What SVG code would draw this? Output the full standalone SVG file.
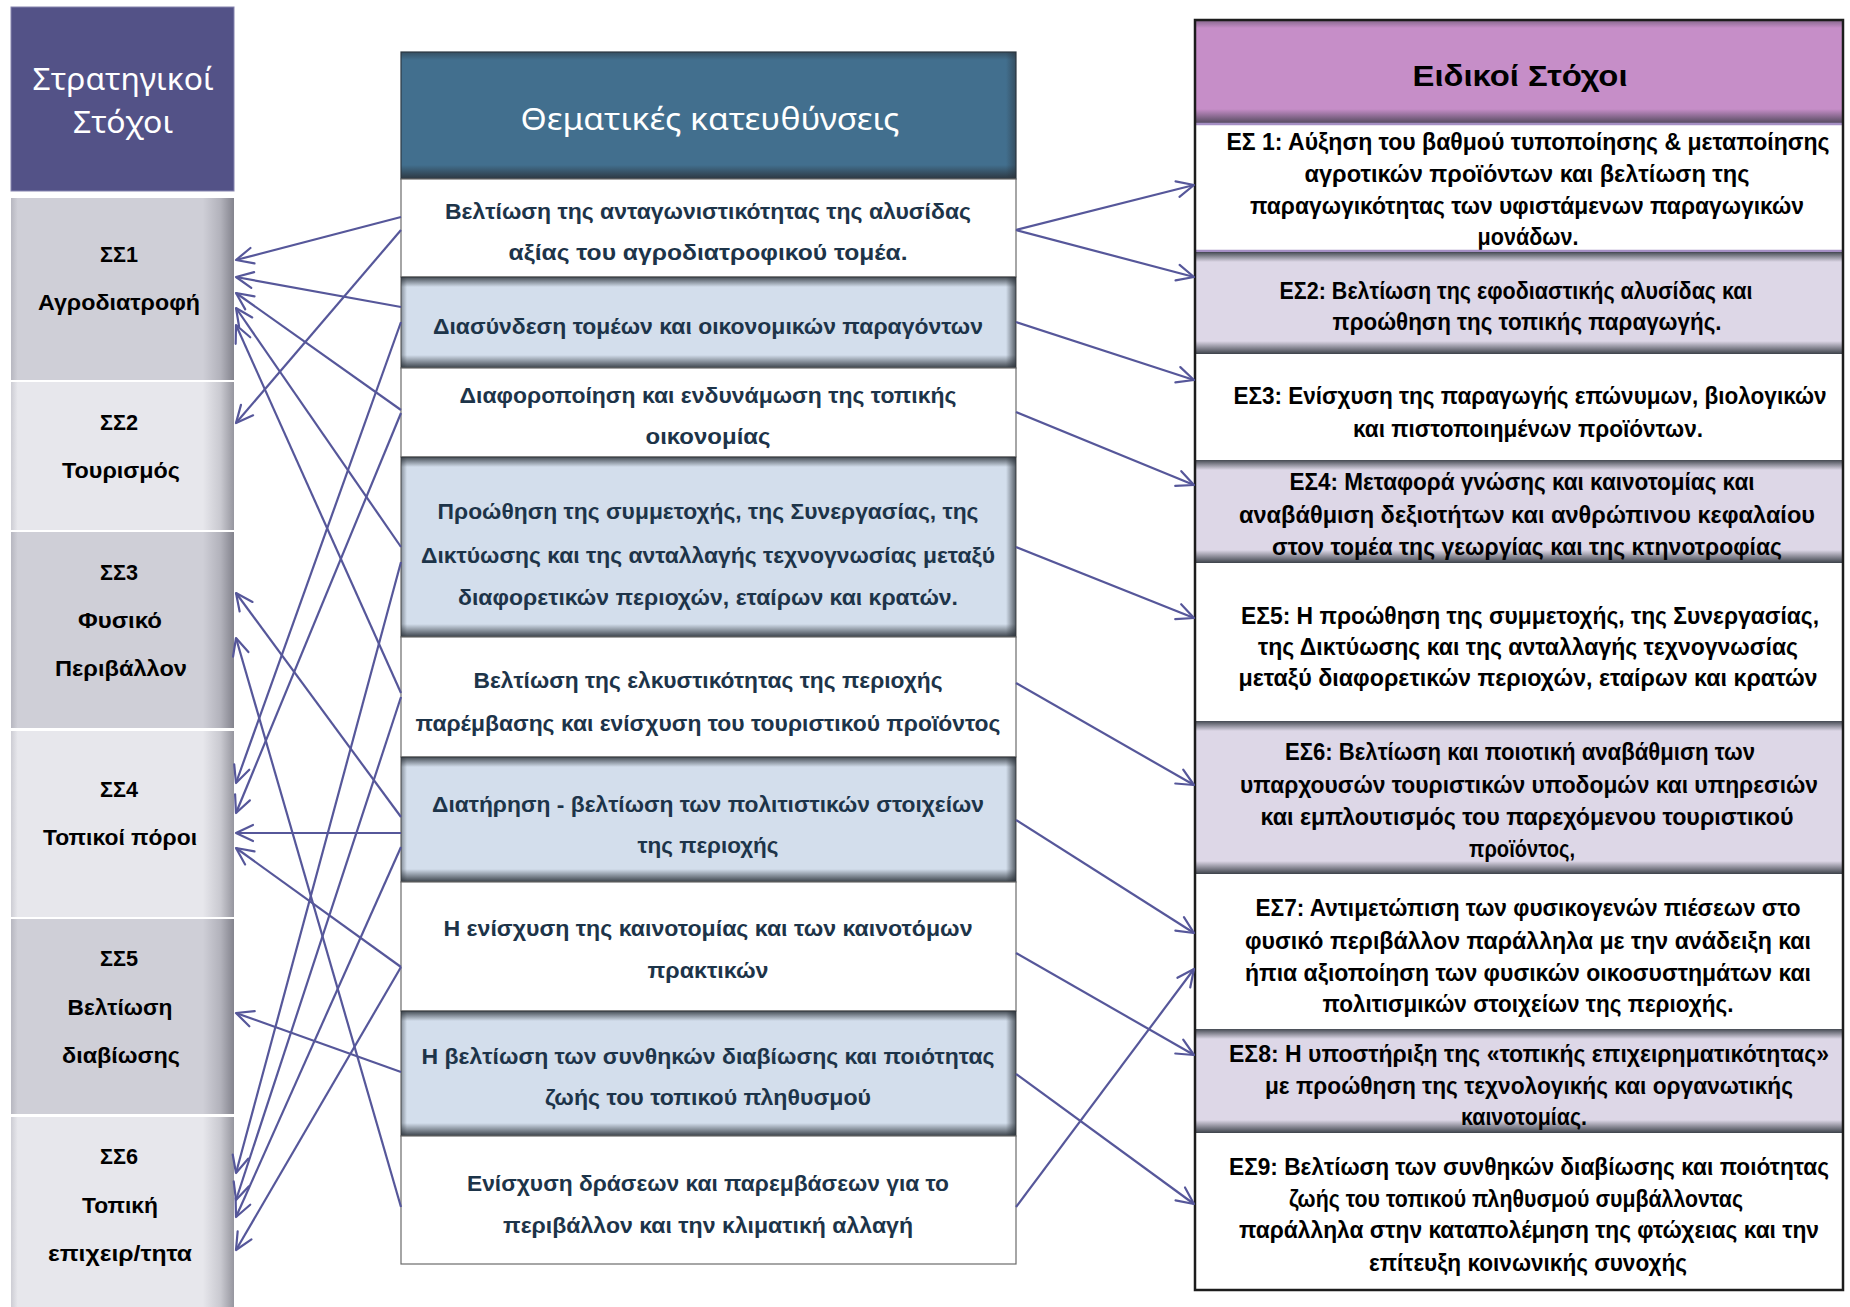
<svg xmlns="http://www.w3.org/2000/svg" width="1850" height="1307" viewBox="0 0 1850 1307">
<style>
.hw{font-family:"Noto Sans","Liberation Sans",sans-serif;font-size:30px;fill:#ffffff;text-anchor:middle}
.ll{font-family:"Liberation Sans",sans-serif;font-weight:bold;font-size:22px;fill:#000;text-anchor:middle}
.mt{font-family:"Liberation Sans",sans-serif;font-weight:bold;font-size:22px;fill:#1d3449;text-anchor:middle}
.rt{font-family:"Liberation Sans",sans-serif;font-weight:bold;font-size:23px;fill:#000;text-anchor:middle}
.rh{font-family:"Liberation Sans",sans-serif;font-weight:bold;font-size:29px;fill:#000;text-anchor:middle}
.cn line{stroke:#56579a;stroke-width:2.2;marker-end:url(#ah)}
.wrow{fill:#ffffff;stroke:#6b6b6b;stroke-width:1.2}
</style>
<defs>
<marker id="ah" viewBox="-20 -10 22 20" refX="0" refY="0" markerWidth="22" markerHeight="20" markerUnits="userSpaceOnUse" orient="auto">
<path d="M-17,-8 L0,0 L-17,8" fill="none" stroke="#56579a" stroke-width="2.2" stroke-linejoin="round" stroke-linecap="round"/>
</marker>
<linearGradient id="gDark" x1="0" y1="0" x2="1" y2="0">
<stop offset="0" stop-color="#b7b7c0"/><stop offset="0.03" stop-color="#cfcfd7"/><stop offset="0.86" stop-color="#cfcfd7"/><stop offset="0.94" stop-color="#b2b2bb"/><stop offset="1" stop-color="#83838d"/>
</linearGradient>
<linearGradient id="gLight" x1="0" y1="0" x2="1" y2="0">
<stop offset="0" stop-color="#cdcdd4"/><stop offset="0.03" stop-color="#e7e7ec"/><stop offset="0.86" stop-color="#e7e7ec"/><stop offset="0.94" stop-color="#c9c9d0"/><stop offset="1" stop-color="#96969f"/>
</linearGradient>
<linearGradient id="shTop" x1="0" y1="0" x2="0" y2="1">
<stop offset="0" stop-color="#2a3138" stop-opacity="0.85"/><stop offset="1" stop-color="#2a3138" stop-opacity="0"/>
</linearGradient>
<linearGradient id="shBot" x1="0" y1="0" x2="0" y2="1">
<stop offset="0" stop-color="#2a3138" stop-opacity="0"/><stop offset="1" stop-color="#2a3138" stop-opacity="0.9"/>
</linearGradient>
<linearGradient id="shRight" x1="0" y1="0" x2="1" y2="0">
<stop offset="0" stop-color="#2a3138" stop-opacity="0"/><stop offset="1" stop-color="#2a3138" stop-opacity="0.75"/>
</linearGradient>
<linearGradient id="shLeft" x1="0" y1="0" x2="1" y2="0">
<stop offset="0" stop-color="#2a3138" stop-opacity="0.45"/><stop offset="1" stop-color="#2a3138" stop-opacity="0"/>
</linearGradient>
</defs>
<rect x="0" y="0" width="1850" height="1307" fill="#ffffff"/>

<!-- Left column: strategic goals -->
<g id="left-header">
<rect x="11" y="7" width="223" height="184" fill="#535287" stroke="#8584ae" stroke-width="1"/>
<text class="hw" x="123" y="90" textLength="181" lengthAdjust="spacingAndGlyphs">Στρατηγικοί</text>
<text class="hw" x="123" y="133" textLength="100" lengthAdjust="spacingAndGlyphs">Στόχοι</text>
</g>
<g id="SS1">
<rect x="11" y="198" width="223" height="182" fill="url(#gDark)"/>
<text class="ll" x="119" y="262" textLength="38" lengthAdjust="spacingAndGlyphs">ΣΣ1</text>
<text class="ll" x="119" y="310" textLength="162" lengthAdjust="spacingAndGlyphs">Αγροδιατροφή</text>
</g>
<g id="SS2">
<rect x="11" y="382" width="223" height="148" fill="url(#gLight)"/>
<text class="ll" x="119" y="430" textLength="38" lengthAdjust="spacingAndGlyphs">ΣΣ2</text>
<text class="ll" x="121" y="478" textLength="118" lengthAdjust="spacingAndGlyphs">Τουρισμός</text>
</g>
<g id="SS3">
<rect x="11" y="532" width="223" height="196" fill="url(#gDark)"/>
<text class="ll" x="119" y="580" textLength="38" lengthAdjust="spacingAndGlyphs">ΣΣ3</text>
<text class="ll" x="120" y="628" textLength="84" lengthAdjust="spacingAndGlyphs">Φυσικό</text>
<text class="ll" x="121" y="676" textLength="132" lengthAdjust="spacingAndGlyphs">Περιβάλλον</text>
</g>
<g id="SS4">
<rect x="11" y="731" width="223" height="186" fill="url(#gLight)"/>
<text class="ll" x="119" y="797" textLength="38" lengthAdjust="spacingAndGlyphs">ΣΣ4</text>
<text class="ll" x="120" y="845" textLength="154" lengthAdjust="spacingAndGlyphs">Τοπικοί πόροι</text>
</g>
<g id="SS5">
<rect x="11" y="919" width="223" height="195" fill="url(#gDark)"/>
<text class="ll" x="119" y="966" textLength="38" lengthAdjust="spacingAndGlyphs">ΣΣ5</text>
<text class="ll" x="120" y="1015" textLength="105" lengthAdjust="spacingAndGlyphs">Βελτίωση</text>
<text class="ll" x="121" y="1063" textLength="118" lengthAdjust="spacingAndGlyphs">διαβίωσης</text>
</g>
<g id="SS6">
<rect x="11" y="1117" width="223" height="190" fill="url(#gLight)"/>
<text class="ll" x="119" y="1164" textLength="38" lengthAdjust="spacingAndGlyphs">ΣΣ6</text>
<text class="ll" x="120" y="1213" textLength="76" lengthAdjust="spacingAndGlyphs">Τοπική</text>
<text class="ll" x="120" y="1261" textLength="144" lengthAdjust="spacingAndGlyphs">επιχειρ/τητα</text>
</g>

<!-- Middle column: thematic directions -->
<g id="mid-header">
<rect x="401" y="52" width="615" height="127" fill="#426f8e" stroke="#2d3a44" stroke-width="1.2"/>
<rect x="401" y="52" width="615" height="8" fill="url(#shTop)" opacity="0.6"/>
<rect x="401" y="165" width="615" height="14" fill="url(#shBot)"/>
<rect x="1006" y="52" width="10" height="127" fill="url(#shRight)" opacity="0.7"/>
<text class="hw" x="710" y="130" textLength="379" lengthAdjust="spacingAndGlyphs">Θεματικές κατευθύνσεις</text>
</g>
<g id="TK1">
<rect class="wrow" x="401" y="179" width="615" height="98"/>
<text class="mt" x="708" y="219" textLength="526" lengthAdjust="spacingAndGlyphs">Βελτίωση της ανταγωνιστικότητας της αλυσίδας</text>
<text class="mt" x="708" y="260" textLength="399" lengthAdjust="spacingAndGlyphs">αξίας του αγροδιατροφικού τομέα.</text>
</g>
<g id="TK2">
<rect x="401" y="277" width="615" height="91" fill="#d3deec" stroke="#6b6b6b" stroke-width="1.2"/>
<rect x="401" y="277" width="615" height="10" fill="url(#shTop)"/>
<rect x="401" y="355" width="615" height="13" fill="url(#shBot)"/>
<rect x="1006" y="277" width="10" height="91" fill="url(#shRight)"/>
<rect x="401" y="277" width="6" height="91" fill="url(#shLeft)"/>
<text class="mt" x="708" y="334" textLength="550" lengthAdjust="spacingAndGlyphs">Διασύνδεση τομέων και οικονομικών παραγόντων</text>
</g>
<g id="TK3">
<rect class="wrow" x="401" y="368" width="615" height="89"/>
<text class="mt" x="708" y="403" textLength="497" lengthAdjust="spacingAndGlyphs">Διαφοροποίηση και ενδυνάμωση της τοπικής</text>
<text class="mt" x="708" y="444" textLength="125" lengthAdjust="spacingAndGlyphs">οικονομίας</text>
</g>
<g id="TK4">
<rect x="401" y="457" width="615" height="180" fill="#d3deec" stroke="#6b6b6b" stroke-width="1.2"/>
<rect x="401" y="457" width="615" height="10" fill="url(#shTop)"/>
<rect x="401" y="624" width="615" height="13" fill="url(#shBot)"/>
<rect x="1006" y="457" width="10" height="180" fill="url(#shRight)"/>
<rect x="401" y="457" width="6" height="180" fill="url(#shLeft)"/>
<text class="mt" x="708" y="519" textLength="541" lengthAdjust="spacingAndGlyphs">Προώθηση της συμμετοχής, της Συνεργασίας, της</text>
<text class="mt" x="708" y="563" textLength="574" lengthAdjust="spacingAndGlyphs">Δικτύωσης και της ανταλλαγής τεχνογνωσίας μεταξύ</text>
<text class="mt" x="708" y="605" textLength="500" lengthAdjust="spacingAndGlyphs">διαφορετικών περιοχών, εταίρων και κρατών.</text>
</g>
<g id="TK5">
<rect class="wrow" x="401" y="637" width="615" height="120"/>
<text class="mt" x="708" y="688" textLength="469" lengthAdjust="spacingAndGlyphs">Βελτίωση της ελκυστικότητας της περιοχής</text>
<text class="mt" x="708" y="731" textLength="585" lengthAdjust="spacingAndGlyphs">παρέμβασης και ενίσχυση του τουριστικού προϊόντος</text>
</g>
<g id="TK6">
<rect x="401" y="757" width="615" height="125" fill="#d3deec" stroke="#6b6b6b" stroke-width="1.2"/>
<rect x="401" y="757" width="615" height="10" fill="url(#shTop)"/>
<rect x="401" y="869" width="615" height="13" fill="url(#shBot)"/>
<rect x="1006" y="757" width="10" height="125" fill="url(#shRight)"/>
<rect x="401" y="757" width="6" height="125" fill="url(#shLeft)"/>
<text class="mt" x="708" y="812" textLength="552" lengthAdjust="spacingAndGlyphs">Διατήρηση - βελτίωση των πολιτιστικών στοιχείων</text>
<text class="mt" x="708" y="853" textLength="141" lengthAdjust="spacingAndGlyphs">της περιοχής</text>
</g>
<g id="TK7">
<rect class="wrow" x="401" y="882" width="615" height="129"/>
<text class="mt" x="708" y="936" textLength="529" lengthAdjust="spacingAndGlyphs">Η ενίσχυση της καινοτομίας και των καινοτόμων</text>
<text class="mt" x="708" y="978" textLength="121" lengthAdjust="spacingAndGlyphs">πρακτικών</text>
</g>
<g id="TK8">
<rect x="401" y="1011" width="615" height="125" fill="#d3deec" stroke="#6b6b6b" stroke-width="1.2"/>
<rect x="401" y="1011" width="615" height="10" fill="url(#shTop)"/>
<rect x="401" y="1123" width="615" height="13" fill="url(#shBot)"/>
<rect x="1006" y="1011" width="10" height="125" fill="url(#shRight)"/>
<rect x="401" y="1011" width="6" height="125" fill="url(#shLeft)"/>
<text class="mt" x="708" y="1064" textLength="573" lengthAdjust="spacingAndGlyphs">Η βελτίωση των συνθηκών διαβίωσης και ποιότητας</text>
<text class="mt" x="708" y="1105" textLength="326" lengthAdjust="spacingAndGlyphs">ζωής του τοπικού πληθυσμού</text>
</g>
<g id="TK9">
<rect class="wrow" x="401" y="1136" width="615" height="128"/>
<text class="mt" x="708" y="1191" textLength="482" lengthAdjust="spacingAndGlyphs">Ενίσχυση δράσεων και παρεμβάσεων για το</text>
<text class="mt" x="708" y="1233" textLength="410" lengthAdjust="spacingAndGlyphs">περιβάλλον και την κλιματική αλλαγή</text>
</g>

<!-- Right column: specific goals -->
<g id="right-header">
<rect x="1195" y="20" width="648" height="103" fill="#c68ec8"/>
<rect x="1195" y="20" width="648" height="8" fill="url(#shTop)" opacity="0.5"/>
<rect x="1195" y="109" width="648" height="14" fill="url(#shBot)" opacity="0.8"/>
<text class="rh" x="1520" y="86" textLength="215" lengthAdjust="spacingAndGlyphs">Ειδικοί Στόχοι</text>
</g>
<g id="ES1">
<rect x="1195" y="123" width="648" height="128" fill="#ffffff"/>
<line x1="1195" y1="124" x2="1843" y2="124" stroke="#a58fc4" stroke-width="2.5"/>
<text class="rt" x="1528" y="150" textLength="603" lengthAdjust="spacingAndGlyphs">ΕΣ 1: Αύξηση του βαθμού τυποποίησης &amp; μεταποίησης</text>
<text class="rt" x="1527" y="182" textLength="445" lengthAdjust="spacingAndGlyphs">αγροτικών προϊόντων και βελτίωση της</text>
<text class="rt" x="1527" y="214" textLength="554" lengthAdjust="spacingAndGlyphs">παραγωγικότητας των υφιστάμενων παραγωγικών</text>
<text class="rt" x="1528" y="245" textLength="101" lengthAdjust="spacingAndGlyphs">μονάδων.</text>
</g>
<g id="ES2">
<rect x="1195" y="251" width="648" height="103" fill="#ddd7e7"/>
<line x1="1195" y1="251" x2="1843" y2="251" stroke="#a58fc4" stroke-width="2.5"/>
<rect x="1195" y="252" width="648" height="10" fill="url(#shTop)"/>
<rect x="1195" y="341" width="648" height="13" fill="url(#shBot)"/>
<text class="rt" x="1516" y="299" textLength="473" lengthAdjust="spacingAndGlyphs">ΕΣ2: Βελτίωση της εφοδιαστικής αλυσίδας και</text>
<text class="rt" x="1527" y="330" textLength="389" lengthAdjust="spacingAndGlyphs">προώθηση της τοπικής παραγωγής.</text>
</g>
<g id="ES3">
<rect x="1195" y="354" width="648" height="106" fill="#ffffff"/>
<text class="rt" x="1530" y="404" textLength="593" lengthAdjust="spacingAndGlyphs">ΕΣ3: Ενίσχυση της παραγωγής επώνυμων, βιολογικών</text>
<text class="rt" x="1528" y="437" textLength="350" lengthAdjust="spacingAndGlyphs">και πιστοποιημένων προϊόντων.</text>
</g>
<g id="ES4">
<rect x="1195" y="460" width="648" height="103" fill="#ddd7e7"/>
<rect x="1195" y="460" width="648" height="10" fill="url(#shTop)"/>
<rect x="1195" y="550" width="648" height="13" fill="url(#shBot)"/>
<text class="rt" x="1522" y="490" textLength="465" lengthAdjust="spacingAndGlyphs">ΕΣ4: Μεταφορά γνώσης και καινοτομίας και</text>
<text class="rt" x="1527" y="523" textLength="576" lengthAdjust="spacingAndGlyphs">αναβάθμιση δεξιοτήτων και ανθρώπινου κεφαλαίου</text>
<text class="rt" x="1527" y="555" textLength="510" lengthAdjust="spacingAndGlyphs">στον τομέα της γεωργίας και της κτηνοτροφίας</text>
</g>
<g id="ES5">
<rect x="1195" y="563" width="648" height="158" fill="#ffffff"/>
<text class="rt" x="1530" y="624" textLength="578" lengthAdjust="spacingAndGlyphs">ΕΣ5: Η προώθηση της συμμετοχής, της Συνεργασίας,</text>
<text class="rt" x="1528" y="655" textLength="540" lengthAdjust="spacingAndGlyphs">της Δικτύωσης και της ανταλλαγής τεχνογνωσίας</text>
<text class="rt" x="1528" y="686" textLength="579" lengthAdjust="spacingAndGlyphs">μεταξύ διαφορετικών περιοχών, εταίρων και κρατών</text>
</g>
<g id="ES6">
<rect x="1195" y="721" width="648" height="153" fill="#ddd7e7"/>
<rect x="1195" y="721" width="648" height="10" fill="url(#shTop)"/>
<rect x="1195" y="861" width="648" height="13" fill="url(#shBot)"/>
<text class="rt" x="1520" y="760" textLength="470" lengthAdjust="spacingAndGlyphs">ΕΣ6: Βελτίωση και ποιοτική αναβάθμιση των</text>
<text class="rt" x="1529" y="793" textLength="578" lengthAdjust="spacingAndGlyphs">υπαρχουσών τουριστικών υποδομών και υπηρεσιών</text>
<text class="rt" x="1527" y="825" textLength="533" lengthAdjust="spacingAndGlyphs">και εμπλουτισμός του παρεχόμενου τουριστικού</text>
<text class="rt" x="1522" y="857" textLength="106" lengthAdjust="spacingAndGlyphs">προϊόντος,</text>
</g>
<g id="ES7">
<rect x="1195" y="874" width="648" height="155" fill="#ffffff"/>
<text class="rt" x="1528" y="916" textLength="545" lengthAdjust="spacingAndGlyphs">ΕΣ7: Αντιμετώπιση των φυσικογενών πιέσεων στο</text>
<text class="rt" x="1528" y="949" textLength="566" lengthAdjust="spacingAndGlyphs">φυσικό περιβάλλον παράλληλα με την ανάδειξη και</text>
<text class="rt" x="1528" y="981" textLength="566" lengthAdjust="spacingAndGlyphs">ήπια αξιοποίηση των φυσικών οικοσυστημάτων και</text>
<text class="rt" x="1528" y="1012" textLength="411" lengthAdjust="spacingAndGlyphs">πολιτισμικών στοιχείων της περιοχής.</text>
</g>
<g id="ES8">
<rect x="1195" y="1029" width="648" height="104" fill="#ddd7e7"/>
<rect x="1195" y="1029" width="648" height="10" fill="url(#shTop)"/>
<rect x="1195" y="1120" width="648" height="13" fill="url(#shBot)"/>
<text class="rt" x="1529" y="1062" textLength="600" lengthAdjust="spacingAndGlyphs">ΕΣ8: Η υποστήριξη της «τοπικής επιχειρηματικότητας»</text>
<text class="rt" x="1529" y="1094" textLength="528" lengthAdjust="spacingAndGlyphs">με προώθηση της τεχνολογικής και οργανωτικής</text>
<text class="rt" x="1524" y="1125" textLength="126" lengthAdjust="spacingAndGlyphs">καινοτομίας.</text>
</g>
<g id="ES9">
<rect x="1195" y="1133" width="648" height="157" fill="#ffffff"/>
<text class="rt" x="1529" y="1175" textLength="600" lengthAdjust="spacingAndGlyphs">ΕΣ9: Βελτίωση των συνθηκών διαβίωσης και ποιότητας</text>
<text class="rt" x="1516" y="1207" textLength="454" lengthAdjust="spacingAndGlyphs">ζωής του τοπικού πληθυσμού συμβάλλοντας</text>
<text class="rt" x="1529" y="1238" textLength="580" lengthAdjust="spacingAndGlyphs">παράλληλα στην καταπολέμηση της φτώχειας και την</text>
<text class="rt" x="1528" y="1271" textLength="318" lengthAdjust="spacingAndGlyphs">επίτευξη κοινωνικής συνοχής</text>
</g>
<rect id="right-frame" x="1195" y="20" width="648" height="1270" fill="none" stroke="#1c1c1c" stroke-width="2.5"/>

<!-- Connectors -->
<g id="connectors" class="cn">
<line x1="401" y1="217" x2="236" y2="260"/>
<line x1="401" y1="230" x2="236" y2="423"/>
<line x1="401" y1="307" x2="236" y2="277"/>
<line x1="401" y1="322" x2="236" y2="783"/>
<line x1="401" y1="410" x2="236" y2="293"/>
<line x1="401" y1="413" x2="236" y2="813"/>
<line x1="401" y1="547" x2="236" y2="308"/>
<line x1="401" y1="562" x2="236" y2="1173"/>
<line x1="401" y1="693" x2="236" y2="325"/>
<line x1="401" y1="697" x2="236" y2="1200"/>
<line x1="401" y1="817" x2="236" y2="593"/>
<line x1="401" y1="833" x2="236" y2="833"/>
<line x1="401" y1="847" x2="236" y2="1217"/>
<line x1="401" y1="967" x2="236" y2="848"/>
<line x1="401" y1="967" x2="236" y2="1250"/>
<line x1="401" y1="1072" x2="236" y2="1013"/>
<line x1="401" y1="1207" x2="236" y2="638"/>
<line x1="1016" y1="230" x2="1194" y2="185"/>
<line x1="1016" y1="230" x2="1194" y2="277"/>
<line x1="1016" y1="322" x2="1194" y2="380"/>
<line x1="1016" y1="412" x2="1194" y2="485"/>
<line x1="1016" y1="547" x2="1194" y2="618"/>
<line x1="1016" y1="683" x2="1194" y2="785"/>
<line x1="1016" y1="820" x2="1194" y2="933"/>
<line x1="1016" y1="953" x2="1194" y2="1055"/>
<line x1="1016" y1="1074" x2="1194" y2="1204"/>
<line x1="1016" y1="1207" x2="1194" y2="969"/>
</g>
</svg>
